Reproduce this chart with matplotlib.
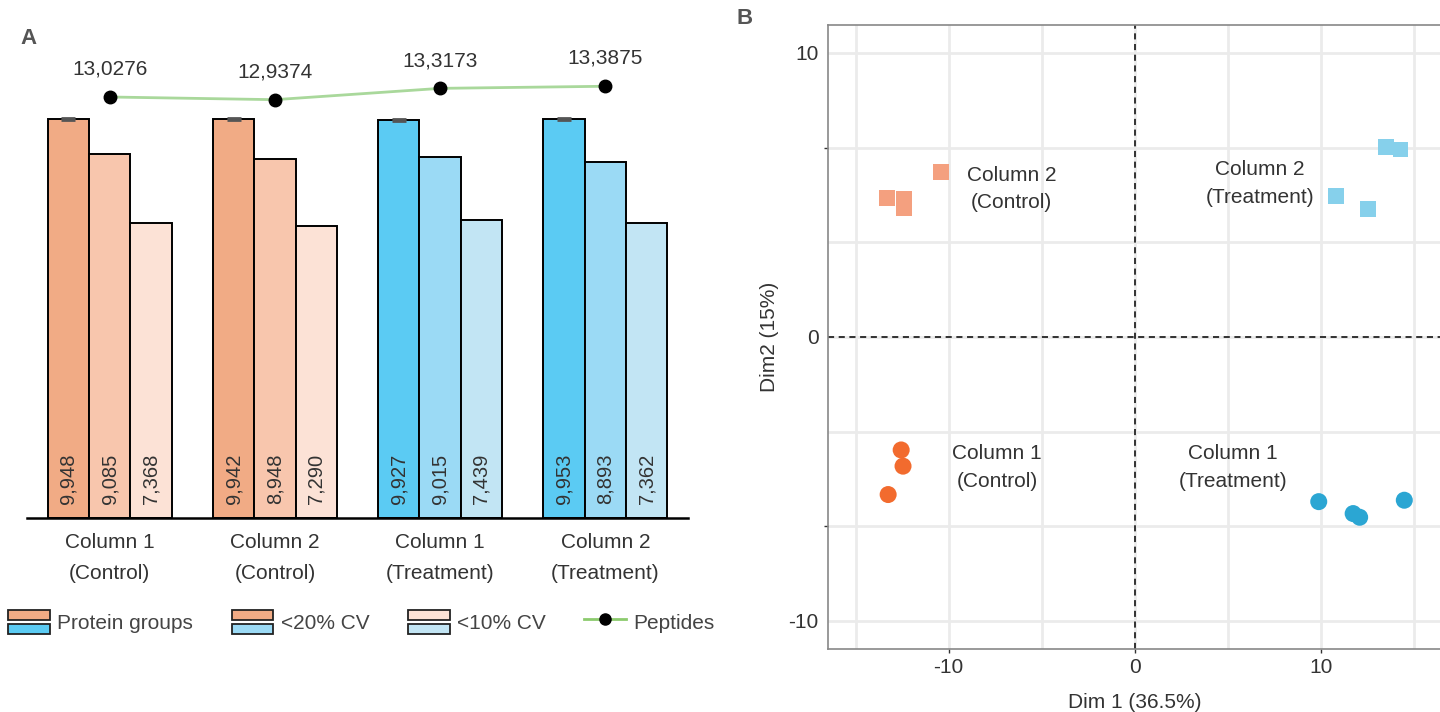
import numpy as np
import matplotlib
matplotlib.use("Agg")
import matplotlib.pyplot as plt
from matplotlib.patches import Rectangle
from matplotlib.lines import Line2D
from matplotlib.legend_handler import HandlerBase

plt.rcParams['font.family'] = ['Liberation Sans', 'DejaVu Sans']
plt.rcParams['axes.unicode_minus'] = False

# ---- panel A data ----
groups = ["Column 1\n(Control)", "Column 2\n(Control)",
          "Column 1\n(Treatment)", "Column 2\n(Treatment)"]
protein_groups = [9948, 9942, 9927, 9953]
cv20 = [9085, 8948, 9015, 8893]
cv10 = [7368, 7290, 7439, 7362]
protein_err = [25, 25, 25, 25]
peptides = [13.0276, 12.9374, 13.3173, 13.3875]

ctrl_colors = ["#F1AB85", "#F8C6AD", "#FCE2D6"]
trt_colors = ["#5BCBF3", "#9BDAF5", "#C2E5F4"]

# ---- panel B data (PCA scores) ----
c2_ctrl_x = [-13.3, -12.4, -12.4, -10.4]
c2_ctrl_y = [4.9, 4.85, 4.55, 5.8]
c2_trt_x = [10.85, 12.55, 13.5, 14.3]
c2_trt_y = [4.95, 4.5, 6.7, 6.6]
c1_ctrl_x = [-12.55, -12.45, -13.25]
c1_ctrl_y = [-3.98, -4.55, -5.55]
c1_trt_x = [9.9, 11.75, 12.1, 14.5]
c1_trt_y = [-5.8, -6.22, -6.35, -5.75]

txt = "#333333"
fig = plt.figure(figsize=(14.4, 7.12), dpi=100)

# ================= Panel A =================
W, H = 1440, 712
axA = fig.add_axes([27 / W, (H - 518) / H, (688 - 27) / W, (518 - 40) / H])
x = np.arange(len(groups))
bw = 0.25
for i in range(len(groups)):
    cols = ctrl_colors if i < 2 else trt_colors
    vals = [protein_groups[i], cv20[i], cv10[i]]
    for j, v in enumerate(vals):
        xpos = x[i] + (j - 1) * bw
        axA.bar(xpos, v, width=bw, color=cols[j], edgecolor="black",
                linewidth=1.4, zorder=2)
        axA.annotate(f"{v:,}", xy=(xpos, 0), xytext=(0, 10),
                     textcoords="offset points", rotation=90,
                     ha="center", va="bottom", fontsize=14.5, color=txt)
    axA.errorbar(x[i] - bw, protein_groups[i], yerr=protein_err[i],
                 color="#555555", capsize=5, capthick=2, lw=1.5, zorder=3)

axA.set_xlim(-0.5, 3.5)
axA.set_ylim(0, 11925)
for s in ["top", "right", "left"]:
    axA.spines[s].set_visible(False)
axA.spines["bottom"].set_linewidth(1.8)
axA.set_yticks([])
axA.set_xticks(x)
axA.set_xticklabels(groups, fontsize=15, color=txt, linespacing=1.8)
axA.tick_params(axis="x", length=0, pad=11)

axP = axA.twinx()
axP.set_ylim(-1.10, 14.94)
axP.axis("off")
axP.plot(x, peptides, color="#A9D89B", lw=2, zorder=3)
axP.plot(x, peptides, "o", color="black", ms=9, zorder=4)
for xi, p in zip(x, peptides):
    axP.annotate(f"{p:.4f}".replace(".", ","), xy=(xi, p), xytext=(0, 20),
                 textcoords="offset points", ha="center", va="center",
                 fontsize=15, color=txt)

fig.text(20 / W, 1 - 38 / H, "A", fontsize=16, fontweight="bold",
         color="#555555", va="center")


# legend with stacked swatches
class StackHandler(HandlerBase):
    def create_artists(self, legend, orig_handle, xd, yd, width, height,
                       fontsize, trans):
        top, bottom = orig_handle
        gap = height * 0.14
        h = (height - gap) / 2
        r1 = Rectangle((xd * -1, yd * -1 + h + gap), width, h, facecolor=top,
                       edgecolor="#222222", lw=1.3, transform=trans)
        r2 = Rectangle((xd * -1, yd * -1), width, h, facecolor=bottom,
                       edgecolor="#222222", lw=1.3, transform=trans)
        return [r1, r2]


handles = [("#F1AB85", "#5BCBF3"), ("#F1AB85", "#9BDAF5"),
           ("#FCE2D6", "#C2E5F4"),
           Line2D([], [], color="#8CCB6E", lw=2, marker="o",
                  markerfacecolor="black", markeredgecolor="black", ms=8)]
labels = ["Protein groups", "<20% CV", "<10% CV", "Peptides"]
fig.legend(handles, labels, handler_map={tuple: StackHandler()},
           loc="center left", bbox_to_anchor=(0.0, 1 - 622 / H), ncol=4,
           frameon=False, fontsize=15, handlelength=2.0, handleheight=1.45,
           handletextpad=0.35, columnspacing=1.85, borderaxespad=0,
           labelcolor="#444444")

# ================= Panel B =================
axB = fig.add_axes([827.7 / W, (H - 649.3) / H, 613.8 / W, (649.3 - 24.6) / H])
axB.set_xlim(-16.5, 16.5)
axB.set_ylim(-11, 11)
axB.set_xticks([-10, 0, 10])
axB.set_xticks([-15, -5, 5, 15], minor=True)
ygrid = np.linspace(-10, 10, 7)
axB.set_yticks(ygrid)
axB.set_yticklabels(["-10", "", "", "0", "", "", "10"])
for k, t in enumerate(axB.yaxis.get_major_ticks()):
    if k not in (1, 5):
        t.tick1line.set_visible(False)
axB.grid(True, which="both", color="#EBEBEB", lw=2, zorder=0)
axB.set_axisbelow(True)
for s in axB.spines.values():
    s.set_color("#888888")
    s.set_linewidth(1.2)
axB.tick_params(axis="both", labelsize=15, labelcolor=txt, color="#333333",
                length=3, width=1)
axB.tick_params(which="minor", length=0)
axB.axhline(0, color="black", ls=(0, (4, 3)), lw=1.1, zorder=1)
axB.axvline(0, color="black", ls=(0, (4, 3)), lw=1.1, zorder=1)

axB.scatter(c2_ctrl_x, c2_ctrl_y, marker="s", s=130, color="#F4A07F",
            edgecolor="none", zorder=3)
axB.scatter(c2_trt_x, c2_trt_y, marker="s", s=130, color="#86D0EB",
            edgecolor="none", zorder=3)
axB.scatter(c1_ctrl_x, c1_ctrl_y, marker="o", s=150, color="#F26B2E",
            edgecolor="none", zorder=3)
axB.scatter(c1_trt_x, c1_trt_y, marker="o", s=150, color="#2BA6D3",
            edgecolor="none", zorder=3)

lab_kw = dict(ha="center", va="center", fontsize=15, color=txt,
              linespacing=1.55)
axB.text(-6.6, 5.2, "Column 2\n(Control)", **lab_kw)
axB.text(6.75, 5.4, "Column 2\n(Treatment)", **lab_kw)
axB.text(-7.4, -4.6, "Column 1\n(Control)", **lab_kw)
axB.text(5.3, -4.6, "Column 1\n(Treatment)", **lab_kw)

axB.set_xlabel("Dim 1 (36.5%)", fontsize=15, color=txt, labelpad=11)
axB.set_ylabel("Dim2 (15%)", fontsize=15, color=txt, labelpad=7)

fig.text(737 / W, 1 - 18 / H, "B", fontsize=16, fontweight="bold",
         color="#555555", va="center")

fig.savefig("out.png", dpi=100)
